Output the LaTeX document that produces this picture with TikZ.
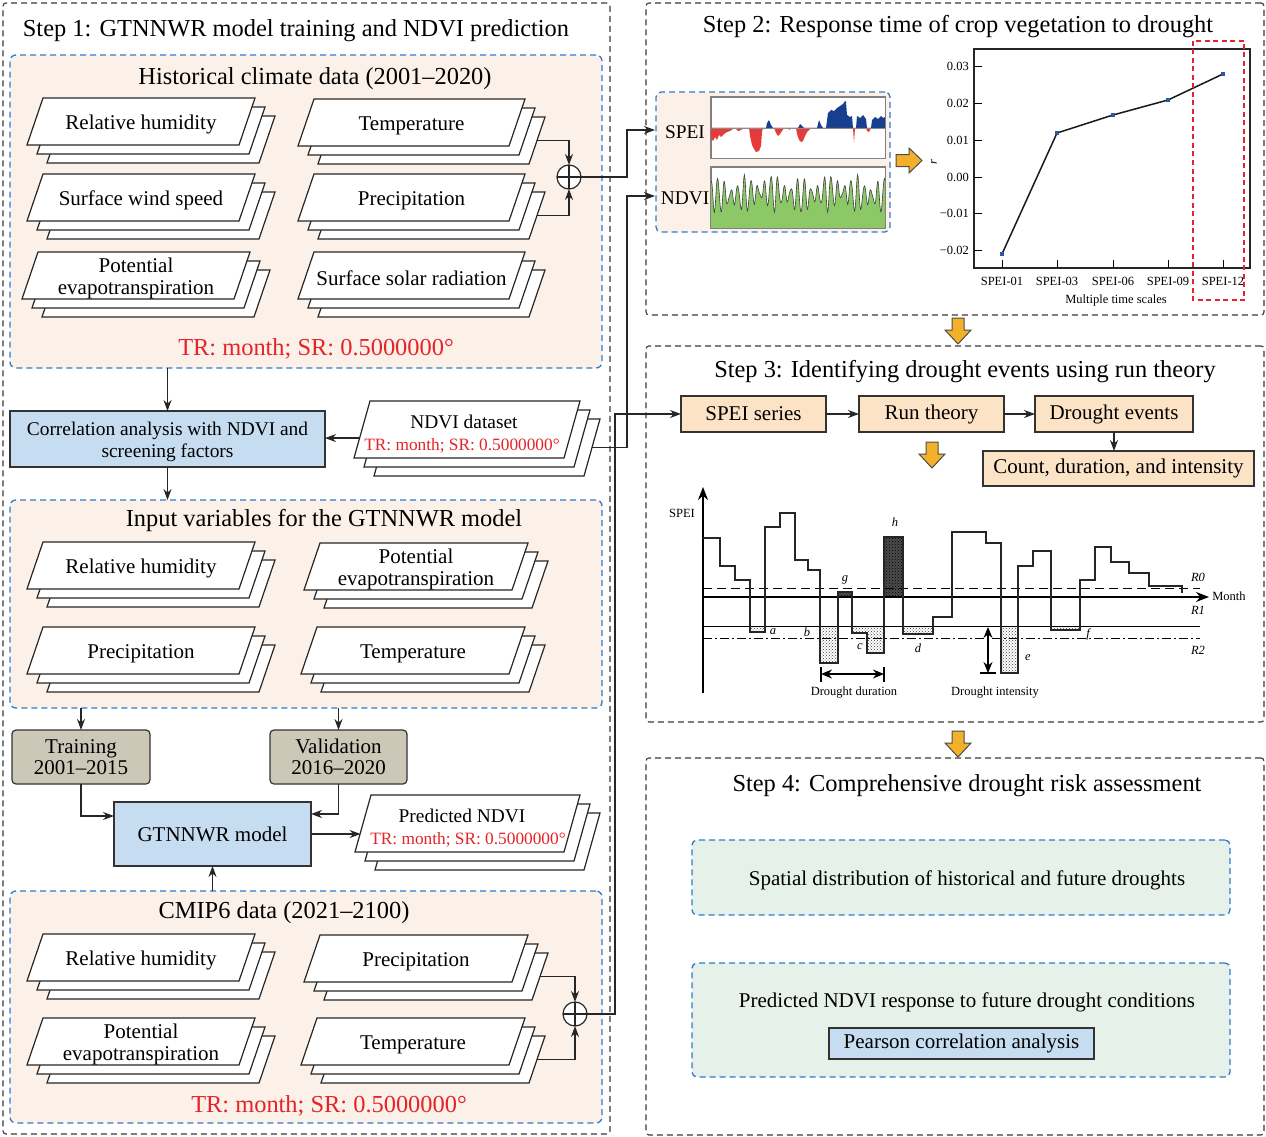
\documentclass[tikz,border=0pt]{standalone}
\usepackage{fontspec}
\setmainfont{Liberation Serif}
\usetikzlibrary{arrows.meta,calc,patterns}

\definecolor{stepgray}{HTML}{3A3A3A}
\definecolor{dblue}{HTML}{2E7BCB}
\definecolor{peach}{HTML}{FCF1E8}
\definecolor{lblue}{HTML}{C6DDF1}
\definecolor{khaki}{HTML}{CCC8B8}
\definecolor{peachB}{HTML}{FDE3C6}
\definecolor{lgreen}{HTML}{E6F1E9}
\definecolor{orng}{HTML}{F3B12B}
\definecolor{tred}{HTML}{E52329}
\definecolor{sblue}{HTML}{173F8F}
\definecolor{sred}{HTML}{E53B3B}
\definecolor{ngreen}{HTML}{8CC865}
\definecolor{mk}{HTML}{2B58A8}

\newcommand\myT{\fontsize{24.4}{28}\selectfont}
\newcommand\myL{\fontsize{21}{22}\selectfont}
\newcommand\myM{\fontsize{19.4}{22}\selectfont}
\newcommand\myS{\fontsize{17.3}{20}\selectfont}
\newcommand\myX{\fontsize{12.5}{14}\selectfont}

\tikzset{
 stepbox/.style={draw=stepgray, line width=1.1pt, dash pattern=on 6pt off 4pt, rounded corners=3pt, inner sep=0, outer sep=0},
 bluebox/.style={draw=dblue, line width=1.3pt, dash pattern=on 6pt off 4pt, rounded corners=6pt, inner sep=0, outer sep=0},
 solidbox/.style={draw=black!80, line width=1.2pt, inner sep=0, outer sep=0, align=center, font=\myL},
 stackline/.style={draw=black!85, fill=white, line width=1.2pt, line join=miter},
 stacktext/.style={align=center, font=\myL, inner sep=0, yshift=-3pt},
 conn/.style={draw=black!85, line width=1.2pt, -{Stealth[length=11pt,width=8pt]}},
 sumnode/.style={circle, draw=black!85, fill=white, line width=1.2pt, minimum size=24pt, inner sep=0, outer sep=0},
 orarrow/.style={fill=orng, draw=black!70, line width=1pt, line join=miter},
 steptitle/.style={font=\myT, inner sep=0, yshift=-3pt},
 freetext/.style={inner sep=0, yshift=-2.5pt, align=center},
 redtext/.style={text=tred, inner sep=0, yshift=-2.5pt},
 tinytext/.style={font=\myX, inner sep=0},
 hatchL/.style={pattern=crosshatch dots, pattern color=black!75},
 hatchD/.style={fill=black!70, postaction={pattern=crosshatch dots, pattern color=black}},
 curve/.style={draw=black!85, line width=1.6pt, line join=miter},
}

% name, x, y (front top-left), w, h, text
\newcommand\datastack[6]{%
 \foreach \k in {2,1,0}{
  \draw[stackline] ({#2+10*\k},{#3+9*\k}) -- ({#2+#4+10*\k},{#3+9*\k}) -- ({#2+#4-16+10*\k},{#3+#5+9*\k}) -- ({#2-16+10*\k},{#3+#5+9*\k}) -- cycle;
 }
 \node[stacktext] (#1) at ({#2+#4/2-8},{#3+#5/2}) {#6};
 \coordinate (#1-e) at ({#2+#4+12},{#3+18+#5/2});
 \coordinate (#1-w) at ({#2-0.65*16},{#3+0.65*#5});
}
\newcommand\ordown[2]{\filldraw[orarrow] ({#1-6},#2) -- ({#1+6},#2) -- ({#1+6},{#2+12}) -- ({#1+13},{#2+12}) -- (#1,{#2+26}) -- ({#1-13},{#2+12}) -- ({#1-6},{#2+12}) -- cycle;}

\begin{document}
\begin{tikzpicture}[x=1pt,y=-1pt]
\useasboundingbox (0,0) rectangle (1266,1137);
\fill[white] (0,0) rectangle (1266,1137);

% ---------- containers ----------
\node[stepbox, minimum width=607pt, minimum height=1131pt] (step1) at (306.5,568.5) {};
\node[stepbox, minimum width=618pt, minimum height=312pt] (step2) at (955,159) {};
\node[stepbox, minimum width=618pt, minimum height=376pt] (step3) at (955,534) {};
\node[stepbox, minimum width=618pt, minimum height=377pt] (step4) at (955,946.5) {};

\node[steptitle] (t1) at (296,28) {Step 1: GTNNWR model training and NDVI prediction};
\node[steptitle] (t2) at (958,24) {Step 2: Response time of crop vegetation to drought};
\node[steptitle] (t3) at (965,369) {Step 3: Identifying drought events using run theory};
\node[steptitle] (t4) at (967,783) {Step 4: Comprehensive drought risk assessment};

% ---------- historical ----------
\node[bluebox, fill=peach, minimum width=592pt, minimum height=313pt] (hist) at (306,211.5) {};
\node[steptitle] (histt) at (315,76) {Historical climate data (2001–2020)};
\datastack{rh1}{43}{98}{212}{47}{Relative humidity}
\datastack{temp1}{314}{99}{211}{47}{Temperature}
\datastack{wind1}{43}{174}{212}{47}{Surface wind speed}
\datastack{prec1}{314}{174}{211}{47}{Precipitation}
\datastack{pet1}{38}{252}{212}{47}{Potential\\evapotranspiration}
\datastack{ssr1}{314}{252}{211}{47}{Surface solar radiation}
\node[redtext, font=\myT] (histtr) at (316,346) {TR: month; SR: 0.5000000°};
\node[sumnode] (sum1) at (569,177) {};
\draw[line width=1.2pt, black!85] (sum1.north) -- (sum1.south) (sum1.west) -- (sum1.east);
\draw[conn] (temp1-e) -| (sum1.north);
\draw[conn] (prec1-e) -| (sum1.south);

% ---------- correlation / NDVI dataset ----------
\node[solidbox, fill=lblue, minimum width=315pt, minimum height=56pt] (corr) at (167.5,439) {};
\node[freetext, font=\myM] (corrt) at (167.5,439) {Correlation analysis with NDVI and\\screening factors};
\datastack{ndvids}{370}{401}{210}{57}{}
\node[freetext, font=\myM] (ndvidsn) at (464,419) {NDVI dataset};
\node[redtext, font=\myS] (ndvidsr) at (462,443) {TR: month; SR: 0.5000000°};
\draw[conn] (corr.north |- hist.south) -- (corr.north);
\draw[conn] (ndvids-w) -- (corr.east |- ndvids-w);

% ---------- input variables ----------
\node[bluebox, fill=peach, minimum width=592pt, minimum height=208pt] (input) at (306,604) {};
\draw[conn] (corr.south) -- (corr.south |- input.north);
\node[steptitle] (inputt) at (324,518) {Input variables for the GTNNWR model};
\datastack{rh2}{43}{542}{212}{47}{Relative humidity}
\datastack{pet2}{320}{543}{208}{47}{Potential\\evapotranspiration}
\datastack{prec2}{43}{627}{212}{47}{Precipitation}
\datastack{temp2}{317}{627}{208}{47}{Temperature}

% ---------- training / validation / model ----------
\node[solidbox, fill=khaki, rounded corners=4pt, minimum width=138pt, minimum height=54pt, font=\fontsize{21}{21}\selectfont] (train) at (81,757) {Training\\2001–2015};
\node[solidbox, fill=khaki, rounded corners=4pt, minimum width=137pt, minimum height=54pt, font=\fontsize{21}{21}\selectfont] (valid) at (338.5,757) {Validation\\2016–2020};
\draw[conn] (train.north |- input.south) -- (train.north);
\draw[conn] (valid.north |- input.south) -- (valid.north);
\node[solidbox, fill=lblue, minimum width=197pt, minimum height=64pt] (gtn) at (212.5,834) {GTNNWR model};
\draw[conn] (train.south) |- ([yshift=18pt]gtn.west);
\draw[conn] (valid.south) |- ([yshift=20pt]gtn.east);
\datastack{pred}{371}{795}{209}{57}{}
\node[freetext, font=\myM] (predn) at (462,813) {Predicted NDVI};
\node[redtext, font=\myS] (predr) at (468,837) {TR: month; SR: 0.5000000°};
\draw[conn] (gtn.east) -- (gtn.east -| pred-w);

% ---------- CMIP6 ----------
\node[bluebox, fill=peach, minimum width=592pt, minimum height=232pt] (cmip) at (306,1007) {};
\draw[conn] (cmip.north -| gtn.south) -- (gtn.south);
\node[steptitle] (cmipt) at (284,910) {CMIP6 data (2021–2100)};
\datastack{rh3}{43}{934}{212}{47}{Relative humidity}
\datastack{prec3}{320}{935}{208}{47}{Precipitation}
\datastack{pet3}{43}{1018}{212}{47}{Potential\\evapotranspiration}
\datastack{temp3}{317}{1018}{208}{47}{Temperature}
\node[redtext, font=\myT] (cmiptr) at (329,1103) {TR: month; SR: 0.5000000°};
\node[sumnode] (sum2) at (575,1014) {};
\draw[line width=1.2pt, black!85] (sum2.north) -- (sum2.south) (sum2.west) -- (sum2.east);
\draw[conn] (prec3-e) -| (sum2.north);
\draw[conn] (temp3-e) -| (sum2.south);

% ---------- step 2 panel ----------
\node[bluebox, fill=peach, rounded corners=5pt, minimum width=234pt, minimum height=140pt] (panel) at (773,162) {};
\node[freetext, font=\myM] (speilab) at (685,130) {SPEI};
\node[freetext, font=\myM] (ndvilab) at (685,196) {NDVI};
\node[draw=black!50, fill=white, line width=0.8pt, minimum width=174pt, minimum height=61pt, inner sep=0] (speichart) at (798,127.5) {};
\node[draw=black!50, fill=white, line width=0.8pt, minimum width=174pt, minimum height=61pt, inner sep=0] (ndvichart) at (798,197.5) {};
\begin{scope}[shift={(711,128)}]
 \fill[sblue] plot coordinates {(0,0) (55,0) (56,-5) (58,-8) (60,-3) (62,0) (87,0) (89,-4) (91,-2) (93,0) (106,0) (108,-8) (110,-3) (112,0) (115,0) (117,-15) (120,-18) (123,-17) (126,-20) (129,-22) (132,-24) (134,-27) (135,-26) (136,-13) (139,-11) (141,-12) (142,0) (145,0) (146,-12) (149,-10) (152,-13) (155,-9) (156,0) (160,0) (161,-8) (164,-11) (167,-9) (170,-12) (172,-10) (174,-11) (174,0)} -- cycle;
 \fill[sred] plot coordinates {(0,0) (0,10) (2,13) (4,9) (6,12) (8,7) (10,9) (13,6) (16,4) (19,3) (22,1) (24,0) (27,3) (30,2) (33,0) (38,0) (39,8) (41,17) (43,21) (45,24) (48,23) (50,18) (51,4) (52,0) (63,0) (65,5) (67,8) (69,6) (71,3) (73,0) (77,0) (78,2) (80,0) (85,0) (86,6) (88,12) (90,14) (92,13) (94,8) (96,4) (98,2) (100,0) (142,0) (143,15) (144,0) (155,0) (156,3) (158,4) (160,0)} -- cycle;
 \draw[black!45, line width=0.6pt] (0,0) -- (174,0);
\end{scope}
\begin{scope}
 \clip (711,167) rectangle (885,228);
 \fill[ngreen] (711,228) -- plot[domain=711:885, samples=350] (\x, {194 - (12+6*sin(13*(\x-711)))*cos(54*(\x-711)) - 2*sin(89*(\x-711)) + 2*sin(5*(\x-711))}) -- (885,228) -- cycle;
 \draw[black!75, line width=0.6pt] plot[domain=711:885, samples=350] (\x, {194 - (12+6*sin(13*(\x-711)))*cos(54*(\x-711)) - 2*sin(89*(\x-711)) + 2*sin(5*(\x-711))});
\end{scope}
\draw[black!50, line width=0.8pt] (speichart.north west) rectangle (speichart.south east);
\draw[black!50, line width=0.8pt] (ndvichart.north west) rectangle (ndvichart.south east);

\coordinate (busA) at (627,0);
\coordinate (busB) at (615,0);
\coordinate (speiin) at (655,130);
\coordinate (ndviin) at (655,196);
\draw[conn] (sum1.east) -- (sum1.east -| busA) |- (speiin);
\draw[conn] (ndvids-e) -- (ndvids-e -| busA) |- (ndviin);

% orange right arrow
\filldraw[orarrow] (896,154.5) -- (909,154.5) -- (909,148) -- (922,160.5) -- (909,173) -- (909,166.5) -- (896,166.5) -- cycle;

% ---------- chart ----------
\draw[line width=1.3pt, black!85] (974,49) rectangle (1250,268);
\foreach \v/\lab [count=\i] in {0.03/0.03, 0.02/0.02, 0.01/0.01, 0/0.00, -0.01/−0.01, -0.02/−0.02}{
 \draw[line width=1pt] (974,{177-\v*3670}) -- ++(8,0);
 \node[tinytext, anchor=east] (ytick\i) at (969,{177-\v*3670}) {\lab};
}
\foreach \xx/\lab [count=\i] in {1002/SPEI-01, 1057/SPEI-03, 1113/SPEI-06, 1168/SPEI-09, 1223/SPEI-12}{
 \draw[line width=1pt] (\xx,268) -- (\xx,260);
 \node[tinytext] (xtick\i) at (\xx,281) {\lab};
}
\node[tinytext] (xlab) at (1116,300) {Multiple time scales};
\node[tinytext, rotate=90] (ylab) at (934,162) {\itshape r};
\node[inner sep=0, minimum size=4pt, fill=mk] (m1) at (1002,254) {};
\node[inner sep=0, minimum size=4pt, fill=mk] (m2) at (1057,133) {};
\node[inner sep=0, minimum size=4pt, fill=mk] (m3) at (1113,115) {};
\node[inner sep=0, minimum size=4pt, fill=mk] (m4) at (1168,100) {};
\node[inner sep=0, minimum size=4pt, fill=mk] (m5) at (1223,74) {};
\draw[line width=1.5pt, black!90] (m1.center) -- (m2.center) -- (m3.center) -- (m4.center) -- (m5.center);
\foreach \i in {1,...,5}{\fill[mk] ($(m\i)+(-2,-2)$) rectangle ++(4,4);}
\draw[tred, line width=1.3pt, dash pattern=on 5pt off 3.5pt] (1193,41) rectangle (1244,300);

% ---------- step 3 ----------
\ordown{958}{318}
\node[solidbox, fill=peachB, minimum width=145pt, minimum height=36pt] (speiser) at (753.5,414) {SPEI series};
\node[solidbox, fill=peachB, minimum width=145pt, minimum height=36pt] (runth) at (931.5,414) {Run theory};
\node[solidbox, fill=peachB, minimum width=158pt, minimum height=36pt] (devents) at (1114,414) {Drought events};
\node[solidbox, fill=peachB, minimum width=271pt, minimum height=35pt] (count) at (1118.5,468.5) {Count, duration, and intensity};
\draw[conn] (speiser.east) -- (runth.west);
\draw[conn] (runth.east) -- (devents.west);
\draw[conn] (devents.south) -- (devents.south |- count.north);
\draw[conn] (sum2.east) -- (sum2.east -| busB) |- (speiser.west);
\ordown{932}{442}

% run theory diagram
\path[hatchL] (750,626) rectangle (765,632);
\path[hatchL] (820,626) rectangle (838,663);
\path[hatchL] (852,626) rectangle (867,633);
\path[hatchL] (867,626) rectangle (884,653);
\path[hatchL] (903,626) rectangle (933,634);
\path[hatchL] (1001,626) rectangle (1018,673);
\path[hatchL] (1051,626) rectangle (1080,630);
\path[hatchD] (838,592) rectangle (852,597);
\path[hatchD] (884,537) rectangle (903,597);
\coordinate (yo) at (703,693);
\coordinate (ytop) at (703,487);
\coordinate (xo) at (703,597);
\coordinate (xend) at (1209,597);
\draw[line width=1.3pt, -{Stealth[length=13pt,width=10pt]}] (yo) -- (ytop);
\draw[line width=1.3pt, -{Stealth[length=13pt,width=10pt]}] (xo) -- (xend);
\draw[line width=1pt, dash pattern=on 9pt off 5pt] (703,588) -- (1200,588);
\draw[line width=1pt] (703,626) -- (1200,626);
\draw[line width=1pt, dash pattern=on 9pt off 3pt on 2pt off 3pt] (703,638) -- (1200,638);
\draw[curve] (703,538) -| (720,566) -| (735,580) -| (750,632) -| (765,527) -| (780,513) -| (795,560) -| (808,570) -| (820,663) -| (838,592) -| (852,633) -| (867,653) -| (884,537) -| (903,634) -| (933,617) -| (952,532) -| (986,543) -| (1001,673) -| (1018,566) -| (1033,551) -| (1051,630) -| (1080,580) -| (1095,547) -| (1111,562) -| (1129,573) -| (1149,586) -| (1182,593);
\draw[line width=1.3pt] (821,667) -- (821,682) (884,667) -- (884,682) (980,673) -- (996,673);
\draw[line width=1.3pt, {Stealth[length=11pt,width=9pt]}-{Stealth[length=11pt,width=9pt]}] (821,674) -- (884,674);
\draw[line width=1.3pt, {Stealth[length=11pt,width=9pt]}-{Stealth[length=11pt,width=9pt]}] (988,627) -- (988,673);
\node[tinytext] (durl) at (854,693) {Drought duration};
\node[tinytext] (intl) at (995,693) {Drought intensity};
\node[tinytext] (speiax) at (682,513) {SPEI};
\node[tinytext] (monthl) at (1229,596) {Month};
\node[tinytext] (r0) at (1198,577) {\itshape R0};
\node[tinytext] (r1) at (1198,610) {\itshape R1};
\node[tinytext] (r2) at (1198,650) {\itshape R2};
\node[tinytext] (la) at (773,632) {\itshape a};
\node[tinytext] (lb) at (807,632) {\itshape b};
\node[tinytext] (lc) at (860,647) {\itshape c};
\node[tinytext] (ld) at (918,648) {\itshape d};
\node[tinytext] (le) at (1028,658) {\itshape e};
\node[tinytext] (lf) at (1088,634) {\itshape f};
\node[tinytext] (lg) at (845,580) {\itshape g};
\node[tinytext] (lh) at (895,522) {\itshape h};

% ---------- step 4 ----------
\ordown{958}{731}
\node[bluebox, fill=lgreen, rounded corners=5pt, minimum width=538pt, minimum height=75pt] (box1) at (961,877.5) {};
\node[freetext, font=\myL] (box1t) at (967,878) {Spatial distribution of historical and future droughts};
\node[bluebox, fill=lgreen, rounded corners=5pt, minimum width=538pt, minimum height=114pt] (box2) at (961,1020) {};
\node[freetext, font=\myL] (box2t) at (967,1000) {Predicted NDVI response to future drought conditions};
\node[solidbox, fill=lblue, minimum width=265pt, minimum height=31pt] (pearson) at (961.5,1043.5) {Pearson correlation analysis};
\end{tikzpicture}
\end{document}
